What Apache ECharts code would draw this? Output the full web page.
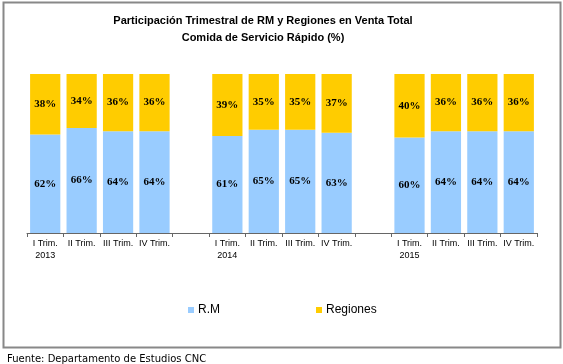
<!DOCTYPE html>
<html>
<head>
<meta charset="utf-8">
<script src="https://cdn.jsdelivr.net/npm/echarts@6/dist/echarts.min.js"></script>
<style>
html,body{margin:0;padding:0;background:#fff;}
#c{width:563px;height:364px;}
</style>
</head>
<body>
<div id="c"></div>
<script>
const categories = ['I Trim.\n2013','II Trim.','III Trim.','IV Trim.','',
                    'I Trim.\n2014','II Trim.','III Trim.','IV Trim.','',
                    'I Trim.\n2015','II Trim.','III Trim.','IV Trim.'];
const rmValues = [62,66,64,64,null,61,65,65,63,null,60,64,64,64];
const regionesValues = [38,34,36,36,null,39,35,35,37,null,40,36,36,36];

const chart = echarts.init(document.getElementById('c'), null, {renderer:'canvas'});
const labelStyle = {
  show:true, position:'inside', formatter:'{c}%',
  fontFamily:'Liberation Serif', fontWeight:'bold', fontSize:11, color:'#000'
};
chart.setOption({
  animation:false,
  backgroundColor:'#fff',
  title:[{
    text:'Participación Trimestral de RM y Regiones en Venta Total\nComida de Servicio Rápido (%)',
    left:258, top:7, textAlign:'center',
    textStyle:{fontFamily:'Liberation Sans', fontWeight:'bold', fontSize:11, lineHeight:17, color:'#000'}
  },{
    text:'Fuente: Departamento de Estudios CNC',
    left:2, top:349,
    textStyle:{fontFamily:'DejaVu Sans', fontWeight:'normal', fontSize:10, color:'#000'}
  }],
  graphic:[{
    type:'rect', shape:{x:3.5, y:2.5, width:557, height:345},
    style:{fill:null, stroke:'#888', lineWidth:2}, silent:true, z:-1
  }],
  legend:[{
    data:['R.M'], left:183, top:299, itemWidth:6, itemHeight:6, itemGap:4,
    icon:'rect', textStyle:{fontFamily:'Liberation Sans', fontSize:12, color:'#000', padding:[0,0,0,-1]}
  },{
    data:['Regiones'], left:311, top:299, itemWidth:6, itemHeight:6, itemGap:4,
    icon:'rect', textStyle:{fontFamily:'Liberation Sans', fontSize:12, color:'#000', padding:[0,0,0,-1]}
  }],
  grid:{left:27, right:26, top:74, bottom:131, containLabel:false},
  xAxis:{
    type:'category', data:categories, boundaryGap:true,
    axisLine:{lineStyle:{color:'#666', width:1}},
    axisTick:{show:true, length:4, lineStyle:{color:'#666'}},
    axisLabel:{interval:0, fontFamily:'Liberation Sans', fontSize:9, color:'#000', lineHeight:12, margin:5}
  },
  yAxis:{type:'value', min:0, max:100, show:false, splitLine:{show:false}},
  series:[{
    name:'R.M', type:'bar', stack:'a', data:rmValues, barCategoryGap:'17%',
    itemStyle:{color:'#99CCFF'}, label:labelStyle
  },{
    name:'Regiones', type:'bar', stack:'a', data:regionesValues, barCategoryGap:'17%',
    itemStyle:{color:'#FFCC00'}, label:labelStyle
  }]
});
</script>
</body>
</html>
